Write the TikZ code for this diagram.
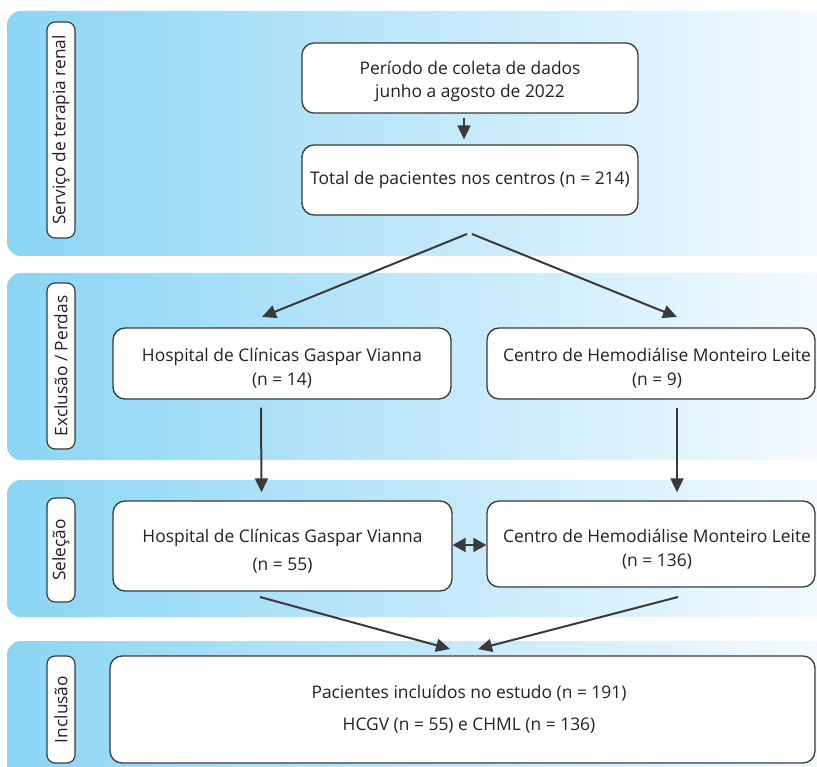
\documentclass[tikz,border=0pt]{standalone}
\usepackage{fontspec}
\setmainfont{Open Sans}
\usetikzlibrary{arrows.meta}
\definecolor{txt}{HTML}{222222}
\definecolor{edge}{HTML}{3A3A3A}
\definecolor{bandL}{RGB}{138,213,245}
\definecolor{bandR}{RGB}{246,251,255}
\newcommand\tgap{\rule{0pt}{23.6pt}}
\begin{document}
\begin{tikzpicture}[x=1pt,y=-1pt,
 band/.style={left color=bandL,right color=bandR,rounded corners=14pt},
 box/.style={draw=edge,fill=white,line width=1.3pt,rounded corners=12pt,inner sep=0pt,font=\fontsize{17.4}{24}\selectfont,text=txt,align=center},
 lab/.style={draw=edge,fill=white,line width=1.2pt,rounded corners=8pt,rotate=90,font=\fontsize{17.3}{18}\selectfont,text=txt,inner sep=0pt},
 arr/.style={draw=edge,line width=2pt,-{Triangle[length=14pt,width=13pt]}},
 darr/.style={draw=edge,line width=2pt,{Triangle[length=13pt,width=14pt]}-{Triangle[length=13pt,width=14pt]}}
]
\useasboundingbox (0,0) rectangle (817,767);
\clip (0,0) rectangle (817,767);
% bands
\shade[band] (7,11) rectangle (830,256);
\shade[band] (7,273) rectangle (830,460);
\shade[band] (7,480) rectangle (830,617);
\shade[band] (7,641) rectangle (830,790);
% side labels
\node[lab,minimum width=216pt,minimum height=28pt] (L1) at (61,130) {Serviço de terapia renal};
\node[lab,minimum width=166pt,minimum height=28pt] (L2) at (61,366) {Exclusão / Perdas};
\node[lab,minimum width=104pt,minimum height=28pt] (L3) at (61,550) {Seleção};
\node[lab,minimum width=107pt,minimum height=28pt] (L4) at (61,709.5) {Inclusão};
% boxes
\node[box,minimum width=336pt,minimum height=70pt] (b1) at (470,78) {\rule{0pt}{21pt}Período de coleta de dados\\[-1pt]junho a agosto de 2022};
\node[box,minimum width=336pt,minimum height=70pt] (b2) at (470,180) {Total de pacientes nos centros (n = 214)};
\node[box,minimum width=338pt,minimum height=71pt] (b3) at (282,363.5) {\tgap Hospital de Clínicas Gaspar Vianna\\(n = 14)};
\node[box,minimum width=328pt,minimum height=71pt] (b4) at (651,363.5) {\tgap\hspace*{12pt}Centro de Hemodiálise Monteiro Leite\\\hspace*{12pt}(n = 9)};
\node[box,minimum width=339pt,minimum height=90pt] (b5) at (282.5,546) {\tgap Hospital de Clínicas Gaspar Vianna\\[4pt](n = 55)};
\node[box,minimum width=328pt,minimum height=86pt] (b6) at (651,544) {\tgap\hspace*{12pt}Centro de Hemodiálise Monteiro Leite\\\hspace*{12pt}(n = 136)};
\node[box,minimum width=705pt,minimum height=107pt] (b7) at (462.5,709.5) {\hspace*{13pt}Pacientes incluídos no estudo (n = 191)\\[8pt]\hspace*{13pt}HCGV (n = 55) e CHML (n = 136)};
% connector coordinates
\coordinate (s1) at (467,234);
\coordinate (s2) at (472,234);
\coordinate (t3) at (262,317);
\coordinate (t4) at (677,317);
\coordinate (m1) at (260,597);
\coordinate (m2) at (678,597);
\coordinate (t7a) at (450,649);
\coordinate (t7b) at (478,649);
% connectors
\draw[arr] ([xshift=-6pt,yshift=-4pt]b1.south) -- ([xshift=-6pt,yshift=5pt]b2.north);
\draw[arr] (s1) -- (t3);
\draw[arr] (s2) -- (t4);
\draw[arr] ([xshift=-21pt,yshift=-8pt]b3.south) -- ([xshift=-21pt,yshift=8pt]b5.north);
\draw[arr] ([xshift=26pt,yshift=-8pt]b4.south) -- ([xshift=26pt,yshift=8pt]b6.north);
\draw[darr] ([yshift=1pt]b5.east) -- ([yshift=-1pt]b6.west);
\draw[arr] (m1) -- (t7a);
\draw[arr] (m2) -- (t7b);
\end{tikzpicture}
\end{document}
